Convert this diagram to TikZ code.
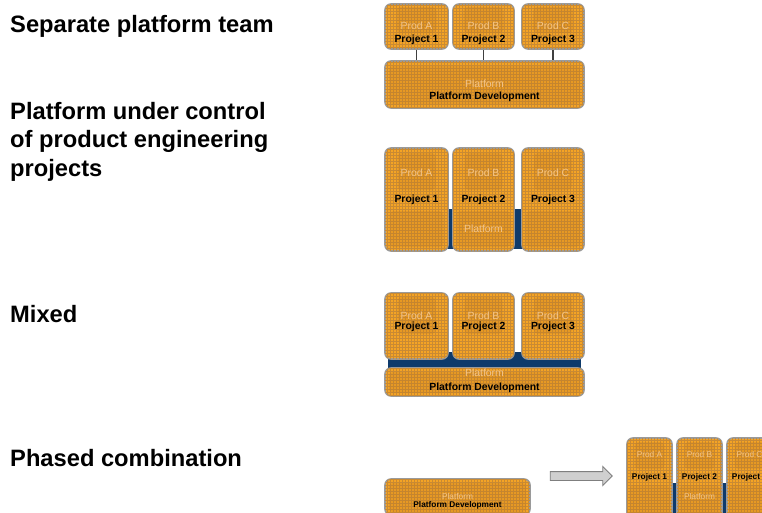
\documentclass[tikz,border=0pt]{standalone}
\usepackage{fontspec}
\setmainfont{Liberation Sans}
\usetikzlibrary{patterns,shapes.arrows}
\definecolor{boxorange}{HTML}{F5A424}
\definecolor{gridorange}{HTML}{C98A33}
\definecolor{boxgrey}{HTML}{9A9A9A}
\definecolor{navy}{HTML}{0E3A6B}
\definecolor{faint}{HTML}{F3C58A}
\definecolor{darkorange}{HTML}{B87420}
\definecolor{arrowfill}{HTML}{CFCFCF}
\definecolor{arrowdraw}{HTML}{7F7F7F}
\begin{document}
\begin{tikzpicture}[x=1pt,y=-1pt,
  box/.style={draw=boxgrey, line width=1.6pt, rounded corners=6pt, fill=boxorange,
    postaction={pattern=grid, pattern color=gridorange}, inner sep=0pt},
  tint/.style={fill=darkorange, fill opacity=0.22, rounded corners=4pt},
  band/.style={fill=navy},
  conn/.style={draw=black!75, line width=1.4pt},
  head/.style={inner sep=0pt, font=\fontsize{23.7}{28.5}\selectfont\bfseries, align=left},
  lab/.style={inner sep=0pt, font=\fontsize{10.4}{12}\selectfont\bfseries},
  smalllab/.style={inner sep=0pt, font=\fontsize{8.3}{10}\selectfont\bfseries},
  ghost/.style={inner sep=0pt, text=faint, font=\fontsize{10.4}{12}\selectfont},
  smallghost/.style={inner sep=0pt, text=faint, font=\fontsize{8.3}{10}\selectfont},
  bigarrow/.style={single arrow, draw=arrowdraw, fill=arrowfill, line width=0.9pt,
    minimum height=62pt, inner sep=4pt, single arrow head extend=5pt}
]
\useasboundingbox (0,0) rectangle (762,512);

% ---------- headings ----------
\node[head, anchor=base west] (h1) at (10,32.7) {Separate platform team};
\node[head, anchor=base west] (h2) at (10,176) {Platform under control\\of product engineering\\projects};
\node[head, anchor=base west] (h3) at (10,322) {Mixed};
\node[head, anchor=base west] (h4) at (10,466) {Phased combination};

% ---------- section 1 ----------
\node[box, minimum width=63, minimum height=45] (s1a) at (416.5,26.5) {};
\node[box, minimum width=61, minimum height=45] (s1b) at (483.5,26.5) {};
\node[box, minimum width=62, minimum height=45] (s1c) at (553,26.5) {};
\node[box, minimum width=199, minimum height=47] (s1p) at (484.5,84.5) {};
\foreach \c in {416.5,483.5,553} {\fill[tint] (\c-20,7) rectangle (\c+20,33);}
\fill[tint] (389,66) rectangle (580,104);
\draw[conn] (s1a.south) -- (s1a.south |- s1p.north);
\draw[conn] (s1b.south) -- (s1b.south |- s1p.north);
\draw[conn] (s1c.south) -- (s1c.south |- s1p.north);
\node[ghost] (s1ga) at (416.5,26) {Prod A};
\node[ghost] (s1gb) at (483.5,26) {Prod B};
\node[ghost] (s1gc) at (553,26) {Prod C};
\node[lab] (s1la) at (416.5,40) {Project 1};
\node[lab] (s1lb) at (483.5,40) {Project 2};
\node[lab] (s1lc) at (553,40) {Project 3};
\node[ghost] (s1gp) at (484.5,84) {Platform};
\node[lab] (s1lp) at (484.5,96.5) {Platform Development};

% ---------- section 2 ----------
\fill[band] (440,209) rectangle (530,249);
\node[box, minimum width=63, minimum height=103] (s2a) at (416.5,199.5) {};
\node[box, minimum width=61, minimum height=103] (s2b) at (483.5,199.5) {};
\node[box, minimum width=62, minimum height=103] (s2c) at (553,199.5) {};
\foreach \c in {416.5,483.5,553} {
  \fill[tint] (\c-19,153) rectangle (\c+19,190);
  \fill[tint] (\c-27,211) rectangle (\c+27,247);}
\node[ghost] (s2ga) at (416.5,173) {Prod A};
\node[ghost] (s2gb) at (483.5,173) {Prod B};
\node[ghost] (s2gc) at (553,173) {Prod C};
\node[lab] (s2la) at (416.5,200) {Project 1};
\node[lab] (s2lb) at (483.5,200) {Project 2};
\node[lab] (s2lc) at (553,200) {Project 3};
\node[ghost] (s2gp) at (483.5,229) {Platform};

% ---------- section 3 ----------
\fill[band] (388,352) rectangle (581,369);
\node[box, minimum width=63, minimum height=66] (s3a) at (416.5,326) {};
\node[box, minimum width=61, minimum height=66] (s3b) at (483.5,326) {};
\node[box, minimum width=62, minimum height=66] (s3c) at (553,326) {};
\node[box, minimum width=199, minimum height=28] (s3p) at (484.5,382) {};
\foreach \c in {416.5,483.5,553} {\fill[tint] (\c-19,297) rectangle (\c+19,334);}
\fill[tint] (389,372) rectangle (580,393);
\node[ghost] (s3ga) at (416.5,316) {Prod A};
\node[ghost] (s3gb) at (483.5,316) {Prod B};
\node[ghost] (s3gc) at (553,316) {Prod C};
\node[lab] (s3la) at (416.5,327) {Project 1};
\node[lab] (s3lb) at (483.5,327) {Project 2};
\node[lab] (s3lc) at (553,327) {Project 3};
\node[ghost] (s3gp) at (484.5,373) {Platform};
\node[lab] (s3lp) at (484.5,388) {Platform Development};

% ---------- section 4 ----------
\node[box, minimum width=145, minimum height=36] (s4p) at (457.5,497) {};
\fill[tint] (389,483) rectangle (526,512);
\node[smallghost] (s4gp) at (457.5,497) {Platform};
\node[smalllab] (s4lp) at (457.5,505) {Platform Development};

\node[bigarrow] (arr) at (579,476) {};

\fill[band] (665,483) rectangle (735,520);
\node[box, minimum width=45, minimum height=82] (s4a) at (649.5,479) {};
\node[box, minimum width=45, minimum height=82] (s4b) at (699.5,479) {};
\node[box, minimum width=45, minimum height=82] (s4c) at (749.5,479) {};
\foreach \c in {649.5,699.5,749.5} {
  \fill[tint] (\c-15,442) rectangle (\c+15,469);
  \fill[tint] (\c-20,485) rectangle (\c+20,516);}
\node[smallghost] (s4ga) at (649.5,455) {Prod A};
\node[smallghost] (s4gb) at (699.5,455) {Prod B};
\node[smallghost] (s4gc) at (749.5,455) {Prod C};
\node[smalllab] (s4la) at (649.5,477) {Project 1};
\node[smalllab] (s4lb) at (699.5,477) {Project 2};
\node[smalllab] (s4lc) at (749.5,477) {Project 3};
\node[smallghost] (s4gq) at (699.5,497) {Platform};
\end{tikzpicture}
\end{document}
